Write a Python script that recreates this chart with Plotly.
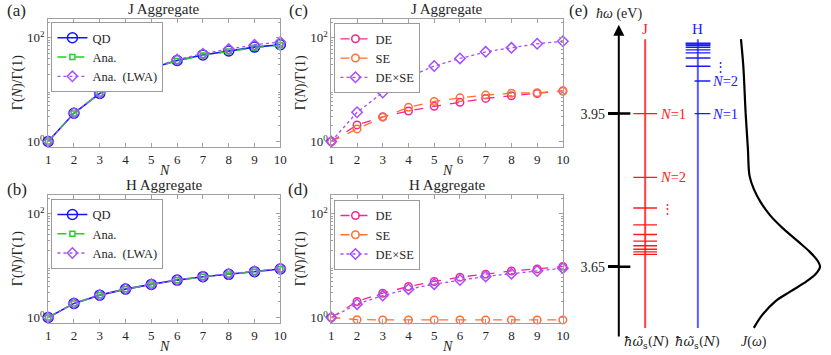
import plotly.graph_objects as go

# ---------------- data ----------------
N = [1, 2, 3, 4, 5, 6, 7, 8, 9, 10]

# (a) J aggregate
J_QD = [1, 3.5, 8.46, 16.3, 26.0, 36.5, 46.8, 55.6, 66.2, 73.6]
J_Ana = [1, 3.48, 8.4, 16.1, 25.6, 35.8, 45.8, 54.5, 64.5, 72.0]
J_LWA = [1, 3.55, 8.6, 16.7, 26.8, 38.0, 49.5, 61.0, 73.5, 82.8]

# (b) H aggregate
H_QD = [1, 1.87, 2.7, 3.53, 4.35, 5.27, 6.13, 6.8, 7.66, 8.6]
H_Ana = [1, 1.86, 2.69, 3.52, 4.33, 5.24, 6.1, 6.78, 7.62, 8.55]
H_LWA = [1, 1.88, 2.72, 3.55, 4.38, 5.3, 6.17, 6.9, 7.8, 8.8]

# (c) J aggregate decomposition
J_DE = [1, 2.09, 3.0, 3.87, 4.77, 5.69, 6.78, 7.62, 8.45, 9.5]
J_SE = [1, 1.75, 2.95, 4.56, 5.94, 6.96, 7.85, 8.57, 8.7, 9.3]
J_DExSE = [1, 3.66, 8.8, 17.6, 28.6, 40.0, 53.7, 64.0, 76.8, 86.0]

# (d) H aggregate decomposition
H_DE = [1, 2.04, 2.94, 3.97, 4.96, 6.0, 6.86, 7.9, 8.67, 9.65]
H_SE = [1, 0.91, 0.9, 0.9, 0.9, 0.9, 0.9, 0.9, 0.9, 0.9]
H_DExSE = [1, 1.81, 2.65, 3.52, 4.4, 5.3, 6.2, 7.0, 7.9, 8.95]

# (e) energy levels (eV)
J_levels = [3.95, 3.825, 3.765, 3.732, 3.713, 3.700, 3.691, 3.684, 3.679, 3.674]
H_levels = [3.95, 4.014, 4.043, 4.059, 4.069, 4.075, 4.080, 4.084, 4.0865, 4.088]
E_ticks = [3.95, 3.65]
E_ticktext = ["3.95", "3.65"]

# spectral density J(omega) (arb. units) vs energy (eV)
Jw_E = [4.096, 4.043, 3.95, 3.880, 3.828, 3.802, 3.777, 3.750, 3.724, 3.699,
        3.679, 3.660, 3.650, 3.637, 3.621, 3.601, 3.582, 3.555, 3.530]
Jw_val = [0.024, 0.053, 0.082, 0.11, 0.13, 0.183, 0.265, 0.387, 0.549, 0.732,
          0.874, 0.976, 1.0, 0.955, 0.833, 0.631, 0.448, 0.285, 0.183]

# ---------------- layout helpers ----------------
W, H = 831, 355
FONT = "Liberation Serif, Times New Roman, serif"
TXT = "#262626"
AXC = "#a0a0a0"


def px(x):
    return x / W


def py(y):
    return 1 - y / H


fig = go.Figure()

C_QD = "#1414ff"
C_ANA = "#22d022"
C_LWA = "#a855f7"
C_DE = "#f5278f"
C_SE = "#ff7030"
C_DS = "#a64dff"

panels = {
    "a": dict(xa="x", ya="y", leg="legend", series=[
        ("QD", J_QD, C_QD, "solid", "circle-open", 10, 1.6),
        ("Ana.", J_Ana, C_ANA, "dash", "square-open", 5, 1.5),
        ("Ana.  (LWA)", J_LWA, C_LWA, "dot", "diamond-open", 8, 1.3)]),
    "b": dict(xa="x2", ya="y2", leg="legend2", series=[
        ("QD", H_QD, C_QD, "solid", "circle-open", 10, 1.6),
        ("Ana.", H_Ana, C_ANA, "dash", "square-open", 5, 1.5),
        ("Ana.  (LWA)", H_LWA, C_LWA, "dot", "diamond-open", 8, 1.3)]),
    "c": dict(xa="x3", ya="y3", leg="legend3", series=[
        ("DE", J_DE, C_DE, "dash", "circle-open", 7.5, 1.3),
        ("SE", J_SE, C_SE, "dash", "circle-open", 7.5, 1.3),
        ("DE×SE", J_DExSE, C_DS, "dot", "diamond-open", 8, 1.3)]),
    "d": dict(xa="x4", ya="y4", leg="legend4", series=[
        ("DE", H_DE, C_DE, "dash", "circle-open", 7.5, 1.3),
        ("SE", H_SE, C_SE, "dash", "circle-open", 7.5, 1.3),
        ("DE×SE", H_DExSE, C_DS, "dot", "diamond-open", 8, 1.3)]),
}

for key, p in panels.items():
    for name, vals, col, dash, sym, size, lw in p["series"]:
        fig.add_trace(go.Scatter(
            x=N, y=vals, name=name, mode="lines+markers",
            line=dict(color=col, dash=dash, width=lw),
            marker=dict(symbol=sym, size=size, color=col, line=dict(width=1.5, color=col)),
            xaxis=p["xa"], yaxis=p["ya"], legend=p["leg"], cliponaxis=False))

# panel boxes (px coordinates)
box_x = {"a": (45.7, 280.7), "b": (45.7, 280.7), "c": (332.3, 566.7), "d": (332.3, 566.7)}
box_y = {"a": (19, 148.3), "b": (196, 325.3), "c": (19, 148.3), "d": (196, 325.3)}
axis_ids = {"a": ("xaxis", "yaxis", "y", "x"), "b": ("xaxis2", "yaxis2", "y2", "x2"),
            "c": ("xaxis3", "yaxis3", "y3", "x3"), "d": ("xaxis4", "yaxis4", "y4", "x4")}

minor_vals = [2, 3, 4, 5, 6, 7, 8, 9, 20, 30, 40, 50, 60, 70, 80, 90, 200]

layout = dict(
    width=W, height=H, margin=dict(l=0, r=0, t=0, b=0),
    paper_bgcolor="white", plot_bgcolor="white",
    font=dict(family=FONT, size=13, color=TXT),
    showlegend=True,
)

for key in "abcd":
    xk, yk, yanc, xanc = axis_ids[key]
    x0, x1 = box_x[key]
    y0, y1 = box_y[key]
    layout[xk] = dict(domain=[px(x0), px(x1)], range=[1, 10], anchor=yanc,
                      tickvals=N, ticks="inside", ticklen=4, tickcolor=AXC,
                      showline=True, linecolor=AXC, linewidth=1, mirror="allticks",
                      showgrid=False, zeroline=False,
                      tickfont=dict(family=FONT, size=13, color=TXT))
    layout[yk] = dict(domain=[py(y1), py(y0)], type="log", range=[-0.115, 2.365],
                      anchor=xanc, tickvals=[1, 100],
                      ticktext=["10<sup>0</sup>", "10<sup>2</sup>"],
                      ticks="inside", ticklen=4, tickcolor=AXC,
                      minor=dict(tickvals=minor_vals, ticks="inside", ticklen=2,
                                 tickcolor=AXC, showgrid=False),
                      showline=True, linecolor=AXC, linewidth=1, mirror="allticks",
                      showgrid=False, zeroline=False,
                      tickfont=dict(family=FONT, size=13, color=TXT))

leg_common = dict(bgcolor="white", bordercolor="#9a9a9a", borderwidth=1,
                  font=dict(family=FONT, size=12.5, color=TXT), itemwidth=30,
                  tracegroupgap=0, xanchor="left", yanchor="top",
                  itemclick=False, itemdoubleclick=False)
layout["legend"] = dict(x=px(49), y=py(22.3), **leg_common)
layout["legend2"] = dict(x=px(49), y=py(200), **leg_common)
layout["legend3"] = dict(x=px(335.5), y=py(23.3), **leg_common)
layout["legend4"] = dict(x=px(335.5), y=py(201), **leg_common)

# ---------------- panel (e) axes ----------------
E_lo, E_hi = 3.51, 4.124
layout["xaxis5"] = dict(domain=[px(590), 1.0], range=[590, 831], anchor="y5",
                        visible=False, showgrid=False, zeroline=False)
layout["yaxis5"] = dict(domain=[py(340), py(25)], range=[E_lo, E_hi], anchor="free",
                        position=px(623.3), tickvals=E_ticks, ticktext=E_ticktext,
                        ticks="outside", ticklen=11, tickwidth=2.5, tickcolor="black",
                        showline=False, showgrid=False, zeroline=False,
                        tickfont=dict(family=FONT, size=14, color=TXT))
layout["xaxis6"] = dict(domain=[px(590), 1.0], range=[-1.890, 1.049], anchor="y5",
                        overlaying="x5", visible=False, showgrid=False, zeroline=False)

fig.update_layout(**layout)

# J(omega) curve
fig.add_trace(go.Scatter(x=Jw_val, y=Jw_E, mode="lines", line=dict(color="black", width=2.2, shape="spline"),
                         xaxis="x6", yaxis="y5", showlegend=False, hoverinfo="skip"))

shapes = []
# right half of the energy-axis ticks
for e in E_ticks:
    shapes.append(dict(type="line", xref="x5", yref="y5", x0=623.3, x1=635, y0=e, y1=e,
                       line=dict(color="black", width=2.5)))
# J and H vertical lines
shapes.append(dict(type="line", xref="x5", yref="y5", x0=650, x1=650, y0=3.530, y1=4.096,
                   line=dict(color="#ff4040", width=2)))
shapes.append(dict(type="line", xref="x5", yref="y5", x0=703.3, x1=703.3, y0=3.530, y1=4.096,
                   line=dict(color="#5a5aff", width=2)))
for e in J_levels:
    shapes.append(dict(type="line", xref="x5", yref="y5", x0=638, x1=662, y0=e, y1=e,
                       line=dict(color="#ff1a1a", width=1.4)))
for i, e in enumerate(H_levels):
    xs = 700 if i < 2 else 691
    shapes.append(dict(type="line", xref="x5", yref="y5", x0=xs, x1=716, y0=e, y1=e,
                       line=dict(color="#1a1aff", width=1.4)))

annotations = []


def ann(text, x, y, size=13, color=TXT, xanchor="center", yanchor="middle", angle=0,
        xref="paper", yref="paper", family=FONT):
    annotations.append(dict(text=text, x=x, y=y, xref=xref, yref=yref, showarrow=False,
                            font=dict(family=family, size=size, color=color),
                            xanchor=xanchor, yanchor=yanchor, textangle=angle))


# energy axis arrow
annotations.append(dict(x=623.3, y=E_hi, ax=623.3, ay=E_lo, xref="x5", yref="y5",
                        axref="x5", ayref="y5", showarrow=True, arrowhead=2, arrowsize=1.1,
                        arrowwidth=2, arrowcolor="black", text="", standoff=0, startstandoff=0))

# panel labels
ann("(a)", px(14), py(11), size=17)
ann("(b)", px(14), py(191), size=17)
ann("(c)", px(299), py(11), size=17)
ann("(d)", px(299), py(191), size=17)
ann("(e)", px(583), py(11), size=17)

# titles
ann("J Aggregate", px(163), py(9), size=15)
ann("J Aggregate", px(449.5), py(9), size=15)
ann("H Aggregate", px(163), py(186), size=15)
ann("H Aggregate", px(449.5), py(186), size=15)

# axis titles
for key in "abcd":
    x0, x1 = box_x[key]
    y0, y1 = box_y[key]
    ann("Γ(<i>N</i>)/Γ(1)", px(x0 - 30.5), py((y0 + y1) / 2), size=14, angle=-90)
    ann("<i>N</i>", px((x0 + x1) / 2), py(y1 + 23), size=14)

# panel (e) texts
ann("<i>ħω</i> (eV)", px(623.5), py(14), size=14)
ann("J", px(650), py(29), size=15, color="#ff2020")
ann("H", px(703.3), py(29), size=15, color="#2020ff")
ann("<i>N</i>=1", 662.5, J_levels[0], size=14.5, color="#ff1a1a", xanchor="left", xref="x5", yref="y5")
ann("<i>N</i>=2", 662.5, J_levels[1], size=14.5, color="#ff1a1a", xanchor="left", xref="x5", yref="y5")
ann("<i>N</i>=1", 715.5, H_levels[0], size=14.5, color="#1a1aff", xanchor="left", xref="x5", yref="y5")
ann("<i>N</i>=2", 715.5, H_levels[1], size=14.5, color="#1a1aff", xanchor="left", xref="x5", yref="y5")
ann("⋮", px(672.7), py(210), size=13, color="#ff1a1a")
ann("⋮", px(726), py(67), size=13, color="#1a1aff")
ann("<i>ħ</i><i>ω\u0303</i><sub>s</sub>(<i>N</i>)", px(651.7), py(344), size=13, family="DejaVu Serif")
ann("<i>ħ</i><i>ω\u0303</i><sub>s</sub>(<i>N</i>)", px(703.3), py(344), size=13, family="DejaVu Serif")
ann("<i>J</i>(<i>ω</i>)", px(760), py(344), size=14)

fig.update_layout(shapes=shapes, annotations=annotations)

fig.write_html(
    "out.html",
    config={"displayModeBar": False},
    post_script="document.body.style.margin='0';document.body.style.overflow='hidden';",
)
